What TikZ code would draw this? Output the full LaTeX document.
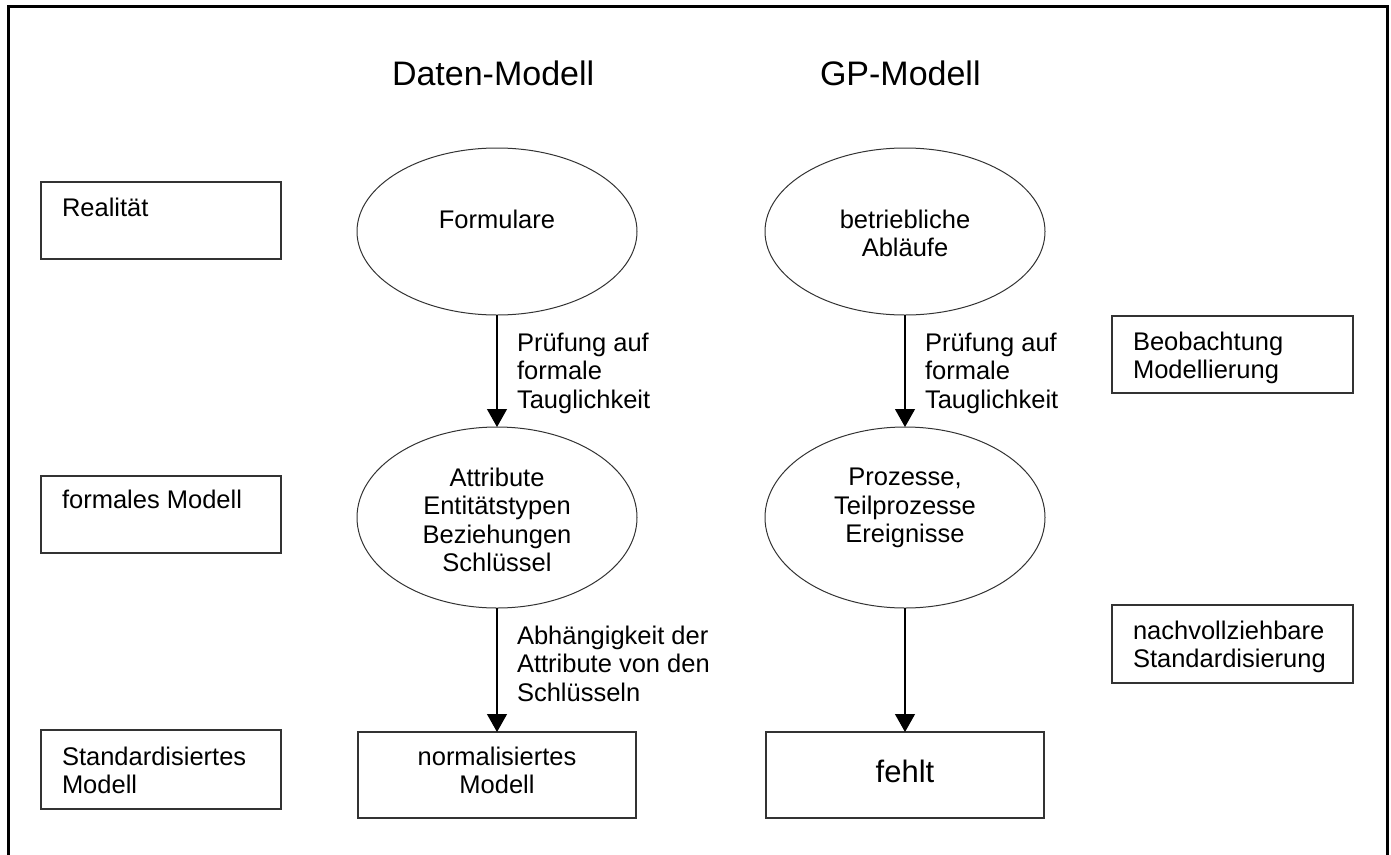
\documentclass[tikz,border=0pt]{standalone}
\usepackage{fontspec}
\setmainfont{Liberation Sans}
\usetikzlibrary{arrows.meta,shapes.geometric}
\begin{document}
\begin{tikzpicture}[x=1pt,y=-1pt,
  every node/.style={inner sep=0pt, outer sep=0pt},
  frame/.style={line width=3pt, draw=black, line join=miter},
  box/.style={draw=black!80, line width=1.3pt, rectangle},
  oval/.style={draw=black!80, line width=1pt, ellipse},
  txt/.style={font=\fontsize{25.5}{28.5}\selectfont, align=left, anchor=north west},
  ctxt/.style={font=\fontsize{25.5}{28.5}\selectfont, align=center, anchor=north},
  head/.style={font=\fontsize{34}{40}\selectfont, anchor=base west},
  flow/.style={line width=1.2pt, -{Triangle[width=20pt,length=18pt]}}
]
\useasboundingbox (0,0) rectangle (1391,854);

% open frame (no bottom edge)
\draw[frame] (8,860) -- (8,6) -- (1387,6) -- (1387,860);

% column headings
\node[head] (hdata) at (392,85) {Daten-Modell};
\node[head] (hgp)   at (820,85) {GP-Modell};

% left row labels
\node[box, minimum width=240pt, minimum height=77pt] (real)  at (161,220.5) {};
\node[txt] (treal) at (62,198) {Realität};
\node[box, minimum width=240pt, minimum height=77pt] (form)  at (161,514.5) {};
\node[txt] (tform) at (62,490) {formales Modell};
\node[box, minimum width=240pt, minimum height=79pt] (std)   at (161,769.5) {};
\node[txt] (tstd) at (62,747) {Standardisiertes\\Modell};

% right step labels
\node[box, minimum width=241pt, minimum height=77pt] (beob)  at (1232.5,354.5) {};
\node[txt] (tbeob) at (1133,332) {Beobachtung\\Modellierung};
\node[box, minimum width=241pt, minimum height=78pt] (nach)  at (1232.5,644) {};
\node[txt] (tnach) at (1133,621) {nachvollziehbare\\Standardisierung};

% data model column
\node[oval, minimum width=280pt, minimum height=167pt] (form1) at (497,231.5) {};
\node[ctxt] (tform1) at (497,210) {Formulare};
\node[oval, minimum width=280pt, minimum height=181pt] (attr) at (497,517.5) {};
\node[ctxt] (tattr) at (497,468) {Attribute\\Entitätstypen\\Beziehungen\\Schlüssel};
\node[box, minimum width=278pt, minimum height=86pt] (norm) at (497,775) {};
\node[ctxt] (tnorm) at (497,747) {normalisiertes\\Modell};

% business process column
\node[oval, minimum width=280pt, minimum height=167pt] (ablauf) at (905,231.5) {};
\node[ctxt] (tablauf) at (905,210) {betriebliche\\Abläufe};
\node[oval, minimum width=280pt, minimum height=181pt] (proz) at (905,517.5) {};
\node[ctxt] (tproz) at (905,468) {Prozesse,\\Teilprozesse\\Ereignisse};
\node[box, minimum width=278pt, minimum height=86pt] (fehlt) at (905,775) {};
\node[font=\fontsize{31}{36}\selectfont] (tfehlt) at (905,771) {fehlt};

% connectors
\draw[flow] (form1.south) -- (attr.north);
\draw[flow] (attr.south) -- (norm.north);
\draw[flow] (ablauf.south) -- (proz.north);
\draw[flow] (proz.south) -- (fehlt.north);

% connector labels
\node[txt] (lpruef1) at (517,333) {Prüfung auf\\formale\\Tauglichkeit};
\node[txt] (lpruef2) at (925,333) {Prüfung auf\\formale\\Tauglichkeit};
\node[txt] (labh) at (517,626) {Abhängigkeit der\\Attribute von den\\Schlüsseln};
\end{tikzpicture}
\end{document}
